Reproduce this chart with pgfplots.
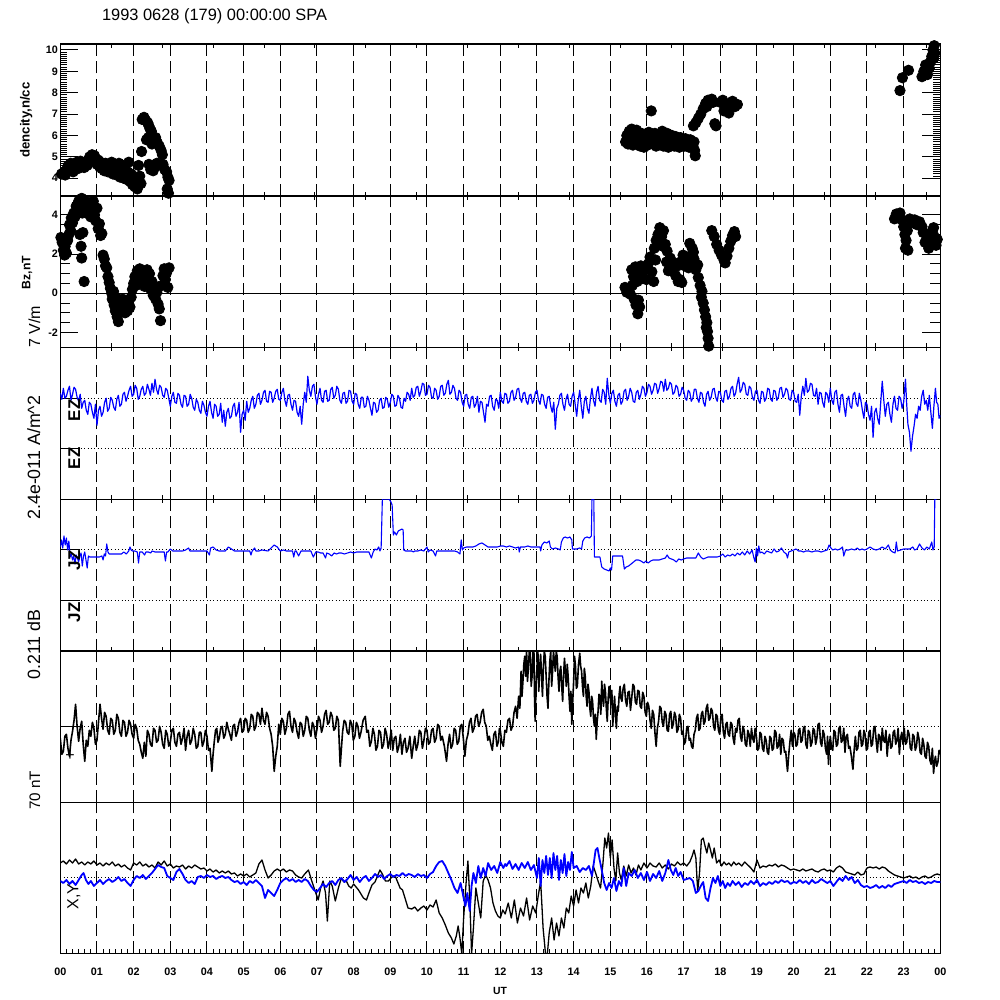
\documentclass[border=0pt]{standalone}
\usepackage{pgfplots}
\pgfplotsset{compat=1.18}
\usepackage{fontspec}
\setmainfont{Liberation Sans}
\definecolor{idlblue}{RGB}{0,0,255}
\pgfplotsset{
  panel/.style={
    scale only axis, width=440pt, xmin=0, xmax=1440, anchor=south west,
    axis line style={line width=0.55pt},
    every tick/.style={black, line width=0.5pt},
    major grid style={black, line width=0.5pt, dash pattern=on 6pt off 2.75pt},
    tick label style={font=\fontsize{5.4}{6}\selectfont\bfseries},
    /pgf/number format/assume math mode=true,
    every axis plot/.append style={line join=round},
  },
  hourgrid/.style={extra x ticks={60,120,...,1380}, extra x tick style={grid=major, major tick length=0pt}, extra x tick labels={}},
  oddticks/.style={xtick={83.33,166.67,250,333.33,416.67,500,583.33,666.67,750,833.33,916.67,1000,1083.33,1166.67,1250,1333.33,1416.67}, xticklabels={}, xtick style={/pgfplots/major tick length=2pt}},
}
\tikzset{lab/.style={inner sep=0pt}}
\newcommand{\outticks}[1]{%
  \pgfplotsinvokeforeach{#1}{\draw[line width=0.5pt] (axis cs:0,##1) -- ++(-5pt,0pt); \draw[line width=0.5pt] (axis cs:1440,##1) -- ++(5pt,0pt);}}
\newcommand{\inticks}[1]{%
  \pgfplotsinvokeforeach{#1}{\draw[line width=0.5pt] (axis cs:0,##1) -- ++(10pt,0pt);}}
\begin{document}
\begin{tikzpicture}
\useasboundingbox (0pt,0pt) rectangle (500pt,500pt);

% ---------- Panel 1: density
\begin{axis}[panel, hourgrid, oddticks, at={(30.15pt,402pt)}, height=76pt,
  ymin=3.17, ymax=10.28, ytick={4,5,6,7,8,9,10}, yticklabels={4,5,6,7,8,9,10}, minor y tick num=9,
  ytick pos=both, yticklabel pos=left,
  ytick style={/pgfplots/major tick length=9pt, /pgfplots/minor tick length=3.5pt},
  yticklabel style={inner sep=0pt, xshift=-1pt}]
\addplot[only marks, mark=*, mark size=2.6pt, black] coordinates {
(2,4.2)(5,4.25)(8,4.15)(11,4.45)(13,4.6)(15,4.35)(17,4.7)(19,4.45)(21,4.3)(23,4.65)(25,4.5)(27,4.75)(29,4.45)(31,4.6)(33,4.8)(35,4.55)(37,4.7)(39,4.5)(41,4.75)(44,4.6)(46,4.85)(48,5.0)(50,4.8)(52,5.1)(54,4.9)(56,5.05)(58,4.8)(60,4.65)(62,4.85)(64,4.55)(66,4.75)(68,4.45)(70,4.6)(72,4.35)(74,4.7)(76,4.5)(78,4.3)(80,4.6)(82,4.4)(84,4.75)(86,4.2)(88,4.5)(90,4.65)(92,4.15)(94,4.4)(96,4.7)(98,4.05)(100,4.3)(102,4.6)(104,4.0)(106,4.45)(108,3.95)(110,4.3)(112,4.75)(114,3.85)(116,4.2)(118,3.7)(120,4.05)(122,3.6)(124,3.9)(126,3.5)(128,4.6)(130,4.1)(132,3.75)(133,5.25)(134,6.75)(137,6.85)(140,6.7)(143,6.6)(145,6.45)(147,6.3)(149,6.2)(141,5.8)(144,5.9)(147,5.75)(150,5.6)(153,5.7)(156,5.9)(159,5.65)(162,5.5)(165,5.3)(167,5.1)(145,4.65)(148,4.4)(152,4.35)(156,4.55)(158,4.7)(168,4.65)(171,4.4)(174,4.3)(176,4.05)(178,3.9)(175,3.5)(177,3.3)
(925,5.7)(927,6.0)(929,5.6)(931,6.2)(933,5.8)(935,6.3)(937,5.55)(939,6.05)(941,5.75)(943,6.25)(945,5.6)(947,5.95)(949,5.5)(951,6.1)(953,5.7)(955,5.45)(957,6.0)(959,5.8)(961,5.55)(963,6.15)(965,5.65)(967,7.15)(969,5.9)(971,5.6)(973,6.1)(975,5.5)(977,5.85)(979,6.05)(981,5.6)(983,5.75)(985,6.2)(987,5.5)(989,5.9)(991,5.65)(993,6.1)(995,5.45)(997,5.8)(999,5.6)(1001,6.0)(1003,5.7)(1005,5.5)(1007,5.95)(1009,5.65)(1011,5.8)(1013,5.45)(1015,5.9)(1017,5.6)(1019,5.75)(1021,5.5)(1023,5.85)(1025,5.6)(1027,5.7)(1029,5.45)(1031,5.8)(1033,5.6)(1035,5.5)(1037,5.7)(1038,5.3)(1039,5.05)(1036,6.45)(1040,6.6)(1044,6.8)(1048,7.0)(1052,7.25)(1056,7.5)(1060,7.65)(1058,7.35)(1066,7.7)(1068,7.55)(1071,6.55)(1073,6.45)(1080,7.55)(1084,7.65)(1088,7.4)(1092,7.3)(1096,7.5)(1100,7.6)(1104,7.35)(1108,7.45)(1086,7.15)(1094,7.05)
(1374,8.1)(1378,8.7)(1388,9.05)(1410,8.75)(1413,9.0)(1416,9.3)(1419,8.85)(1422,9.15)(1424,9.45)(1426,9.7)(1428,10.0)(1430,10.2)(1431,9.85)(1429,9.6)
};
\end{axis}

% ---------- Panel 2: Bz
\begin{axis}[panel, hourgrid, oddticks, at={(30.15pt,326.25pt)}, height=75.75pt,
  ymin=-2.77, ymax=4.97, ytick={-2,0,2,4}, yticklabels={-2,0,2,4}, minor y tick num=3,
  ytick pos=both, yticklabel pos=left,
  ytick style={/pgfplots/major tick length=9pt, /pgfplots/minor tick length=5pt},
  yticklabel style={inner sep=0pt, xshift=-1pt}]
\draw[line width=0.55pt] (axis cs:0,0) -- (axis cs:1440,0);
\addplot[only marks, mark=*, mark size=2.6pt, black] coordinates {
(1,2.85)(3,2.6)(5,2.2)(7,1.95)(8,2.4)(10,2.05)(12,2.7)(14,3.0)(15,3.5)(17,3.2)(18,3.85)(20,3.6)(22,4.1)(24,3.9)(26,4.45)(28,4.2)(30,4.7)(31,4.3)(33,4.55)(35,4.85)(36,4.1)(38,4.4)(40,4.75)(42,4.3)(44,4.6)(46,4.05)(48,4.5)(50,3.9)(52,4.25)(54,4.7)(56,4.0)(58,3.7)(32,3.0)(34,2.4)(35,1.8)(37,3.1)(39,0.6)(60,4.35)(62,3.3)(64,3.55)(66,2.95)(68,3.05)(70,1.95)(72,1.75)(74,1.4)(76,1.3)(78,0.85)(80,0.55)(82,0.25)(84,0.0)(85,-0.3)(87,0.1)(88,-0.6)(90,-0.9)(91,-0.2)(93,-1.2)(95,-1.45)(96,-0.7)(98,-0.5)(100,-0.85)(102,-0.3)(104,-0.75)(106,-1.0)(108,-0.55)(110,-0.9)(112,-0.4)(114,-0.7)(116,-0.2)(118,0.2)(120,0.5)(122,0.85)(124,0.4)(126,1.15)(128,0.75)(130,1.25)(132,0.9)(134,0.6)(136,1.05)(138,0.35)(140,0.8)(142,1.2)(144,0.5)(146,1.0)(148,0.2)(150,0.6)(152,-0.1)(154,0.35)(156,-0.3)(158,0.05)(160,-0.55)(162,-0.8)(164,-1.4)(166,0.4)(168,0.9)(170,1.25)(172,0.7)(174,1.05)(176,0.3)(178,1.3)
(924,0.3)(927,0.05)(930,0.2)(933,-0.05)(936,0.4)(935,1.2)(938,0.85)(941,1.35)(944,0.6)(947,1.0)(950,1.4)(953,0.75)(939,-0.3)(942,-0.6)(945,-1.05)(948,-0.7)(946,-0.35)(956,1.2)(959,0.7)(962,1.5)(965,1.85)(968,1.1)(971,0.6)(974,1.7)(972,2.3)(975,2.7)(978,3.0)(981,3.35)(984,2.9)(987,3.2)(990,2.5)(993,2.15)(986,2.4)(992,1.6)(995,1.15)(998,1.8)(1001,1.3)(1004,1.55)(1007,0.9)(1010,1.4)(1011,0.6)(1014,0.7)(1017,0.55)(1015,1.6)(1019,1.95)(1022,1.4)(1025,1.7)(1028,1.3)(1031,1.9)(1034,1.5)(1037,1.75)(1040,1.2)(1043,1.45)(1030,2.55)(1034,2.3)(1036,2.1)(1044,0.8)(1047,0.4)(1050,0.1)(1049,-0.2)(1052,-0.5)(1054,-0.85)(1056,-1.2)(1058,-1.5)(1057,-1.75)(1059,-1.95)(1060,-2.3)(1061,-2.7)(1066,3.2)(1070,2.9)(1074,2.5)(1078,2.2)(1082,1.95)(1086,1.7)(1088,1.55)(1091,1.9)(1094,2.3)(1097,2.65)(1100,2.95)(1103,3.15)(1105,2.9)
(1365,3.8)(1368,4.05)(1371,3.9)(1374,4.1)(1377,3.75)(1380,3.4)(1382,3.0)(1384,2.7)(1386,3.2)(1383,2.3)(1387,2.2)(1390,3.8)(1394,3.6)(1398,3.75)(1402,3.5)(1406,3.65)(1410,3.4)(1412,3.1)(1415,2.6)(1418,2.9)(1421,2.3)(1424,2.7)(1427,3.2)(1430,2.9)(1433,2.45)(1435,2.75)(1429,3.35)
};
\end{axis}

% ---------- Panel 3: EZ
\begin{axis}[panel, hourgrid, oddticks, at={(30.15pt,250.35pt)}, height=75.9pt,
  ymin=-101, ymax=50.8, ytick=\empty]
\draw[line width=0.5pt, dash pattern=on 0.5pt off 1.2pt] (axis cs:0,0) -- (axis cs:1440,0);
\draw[line width=0.5pt, dash pattern=on 0.5pt off 1.2pt] (axis cs:0,-50) -- (axis cs:1440,-50);
\outticks{50.8,0,-50,-101}
\inticks{0,-50}
\addplot[idlblue, line width=0.6pt] coordinates {
(0,5)(2.5,-1)(5,10)(7.5,0)(10,2)(12.5,8)(15,12)(17.5,-2)(20,4)(22.5,11)(25,9)(27.5,1)(30,-3)(32.5,4)(35,-10)(37.5,-4)(40,-2)(42.5,-12)(45,-16)(47.5,-4)(50,-6)(52.5,-14)(55,-20)(57.5,-6)
(60,-27)(62.5,-12)(65,-8)(67.5,-18)(70,-14)(72.5,-4)(75,0)(77.5,-13)(80,-10)(82.5,1)(85,-2)(87.5,-9)(90,-12)(92.5,-1)(95,3)(97.5,-8)(100,-6)(102.5,4)(105,6)(107.5,-3)(110,2)(112.5,8)(115,12)(117.5,2)
(120,4)(122.5,13)(125,10)(127.5,-1)(130,2)(132.5,9)(135,12)(137.5,3)(140,5)(142.5,14)(145,9)(147.5,3)(150,15)(152.5,6)(155,19)(157.5,9)(160,4)(162.5,13)(165,11)(167.5,3)(170,1)(172.5,10)(175,8)(177.5,0)
(180,-8)(182.5,2)(185,6)(187.5,-4)(190,-5)(192.5,5)(195,3)(197.5,-6)(200,-9)(202.5,3)(205,2)(207.5,-8)(210,-6)(212.5,4)(215,0)(217.5,-9)(220,-12)(222.5,-1)(225,-4)(227.5,-12)(230,-15)(232.5,-3)(235,-7)(237.5,-14)
(240,-18)(242.5,-8)(245,-3)(247.5,-14)(250,-20)(252.5,-6)(255,-8)(257.5,-18)(260,-16)(262.5,-5)(265,-24)(267.5,-12)(270,-28)(272.5,-14)(275,-10)(277.5,-20)(280,-18)(282.5,-8)(285,-5)(287.5,-18)(290,-14)(292.5,-4)(295,-34)(297.5,-16)
(300,-12)(302.5,-22)(305,-3)(307.5,-14)(310,-10)(312.5,-2)(315,2)(317.5,-10)(320,-6)(322.5,3)(325,5)(327.5,-6)(330,-2)(332.5,6)(335,8)(337.5,-3)(340,-4)(342.5,7)(345,6)(347.5,-4)(350,0)(352.5,7)(355,9)(357.5,-1)
(360,-2)(362.5,6)(365,10)(367.5,-2)(370,-8)(372.5,3)(375,4)(377.5,-6)(380,-12)(382.5,-2)(385,-3)(387.5,-14)(390,-18)(392.5,-8)(395,-26)(397.5,-6)(400,6)(402.5,-4)(405,22)(407.5,8)(410,2)(412.5,12)(415,14)(417.5,2)
(420,-6)(422.5,4)(425,10)(427.5,-2)(430,-4)(432.5,7)(435,8)(437.5,-3)(440,-2)(442.5,9)(445,11)(447.5,0)(450,3)(452.5,12)(455,9)(457.5,-2)(460,-5)(462.5,5)(465,6)(467.5,-5)(470,-3)(472.5,8)(475,7)(477.5,-3)
(480,-6)(482.5,5)(485,4)(487.5,-6)(490,-10)(492.5,1)(495,1)(497.5,-9)(500,-8)(502.5,2)(505,-2)(507.5,-10)(510,-17)(512.5,-4)(515,-5)(517.5,-14)(520,-12)(522.5,-2)(525,0)(527.5,-10)(530,-9)(532.5,1)(535,-1)(537.5,-9)
(540,-4)(542.5,4)(545,2)(547.5,-8)(550,-7)(552.5,3)(555,0)(557.5,-9)(560,-10)(562.5,0)(565,-3)(567.5,6)(570,4)(572.5,-2)(575,10)(577.5,1)(580,3)(582.5,11)(585,12)(587.5,2)(590,7)(592.5,15)(595,14)(597.5,3)
(600,4)(602.5,13)(605,11)(607.5,1)(610,0)(612.5,10)(615,8)(617.5,-1)(620,2)(622.5,12)(625,13)(627.5,3)(630,5)(632.5,14)(635,18)(637.5,4)(640,6)(642.5,13)(645,10)(647.5,0)(650,-2)(652.5,8)(655,6)(657.5,-4)
(660,-8)(662.5,3)(665,4)(667.5,-6)(670,-10)(672.5,1)(675,2)(677.5,-9)(680,-6)(682.5,2)(685,-14)(687.5,-3)(690,-4)(692.5,-14)(695,-24)(697.5,-6)(700,-8)(702.5,2)(705,3)(707.5,-8)(710,-12)(712.5,-1)(715,-2)(717.5,-10)
(720,6)(722.5,-3)(725,-5)(727.5,5)(730,4)(732.5,-5)(735,-3)(737.5,6)(740,8)(742.5,-2)(745,1)(747.5,9)(750,10)(752.5,0)(755,-4)(757.5,5)(760,6)(762.5,-3)(765,-6)(767.5,3)(770,4)(772.5,-5)(775,-2)(777.5,6)
(780,8)(782.5,-2)(785,-6)(787.5,4)(790,3)(792.5,-6)(795,-10)(797.5,1)(800,2)(802.5,-8)(805,-14)(807.5,-4)(810,-31)(812.5,-10)(815,-6)(817.5,3)(820,5)(822.5,-6)(825,-12)(827.5,-1)(830,4)(832.5,-6)(835,-8)(837.5,2)
(840,6)(842.5,-6)(845,-18)(847.5,-2)(850,8)(852.5,-8)(855,-20)(857.5,-3)(860,2)(862.5,-10)(865,-15)(867.5,0)(870,10)(872.5,-2)(875,-8)(877.5,6)(880,12)(882.5,-2)(885,-4)(887.5,9)(890,6)(892.5,-6)(895,20)(897.5,4)
(900,-5)(902.5,5)(905,8)(907.5,-3)(910,-8)(912.5,3)(915,5)(917.5,-6)(920,-3)(922.5,7)(925,9)(927.5,-2)(930,2)(932.5,10)(935,6)(937.5,-3)(940,-4)(942.5,6)(945,8)(947.5,-1)(950,4)(952.5,12)(955,10)(957.5,2)
(960,6)(962.5,14)(965,12)(967.5,4)(970,8)(972.5,15)(975,14)(977.5,5)(980,10)(982.5,17)(985,16)(987.5,7)(990,19)(992.5,8)(995,10)(997.5,16)(1000,14)(1002.5,4)(1005,6)(1007.5,13)(1010,11)(1012.5,2)(1015,4)(1017.5,11)
(1020,8)(1022.5,0)(1025,-2)(1027.5,8)(1030,6)(1032.5,-3)(1035,0)(1037.5,9)(1040,9)(1042.5,0)(1045,-4)(1047.5,6)(1050,5)(1052.5,-4)(1055,-8)(1057.5,4)(1060,7)(1062.5,-2)(1065,1)(1067.5,9)(1070,10)(1072.5,1)(1075,-3)(1077.5,7)
(1080,6)(1082.5,-2)(1085,-4)(1087.5,7)(1090,8)(1092.5,-1)(1095,2)(1097.5,10)(1100,12)(1102.5,2)(1105,5)(1107.5,14)(1110,21)(1112.5,6)(1115,9)(1117.5,16)(1120,14)(1122.5,4)(1125,3)(1127.5,12)(1130,10)(1132.5,1)(1135,-2)(1137.5,7)
(1140,8)(1142.5,-2)(1145,-5)(1147.5,7)(1150,6)(1152.5,-3)(1155,0)(1157.5,10)(1160,9)(1162.5,-1)(1165,-3)(1167.5,8)(1170,7)(1172.5,-2)(1175,1)(1177.5,10)(1180,11)(1182.5,1)(1185,4)(1187.5,10)(1190,8)(1192.5,-1)(1195,-2)(1197.5,8)
(1200,6)(1202.5,-3)(1205,-4)(1207.5,4)(1210,-17)(1212.5,2)(1215,12)(1217.5,3)(1220,20)(1222.5,6)(1225,8)(1227.5,15)(1230,14)(1232.5,3)(1235,2)(1237.5,10)(1240,-6)(1242.5,6)(1245,5)(1247.5,-4)(1250,-9)(1252.5,6)(1255,4)(1257.5,-4)
(1260,10)(1262.5,-2)(1265,-6)(1267.5,6)(1270,8)(1272.5,-6)(1275,-14)(1277.5,3)(1280,4)(1282.5,-8)(1285,-18)(1287.5,-2)(1290,2)(1292.5,-8)(1295,-10)(1297.5,4)(1300,6)(1302.5,-5)(1305,-8)(1307.5,5)(1310,-2)(1312.5,-12)(1315,-20)(1317.5,-4)
(1320,-6)(1322.5,-16)(1325,-22)(1327.5,-8)(1330,-39)(1332.5,-14)(1335,-10)(1337.5,-20)(1340,-26)(1342.5,-4)(1345,17)(1347.5,-2)(1350,-18)(1352.5,-6)(1355,-4)(1357.5,-16)(1360,-24)(1362.5,-6)(1365,2)(1367.5,-10)(1370,-12)(1372.5,2)(1375,0)(1377.5,-10)
(1380,-4)(1383,19)(1385,-6)(1387,-26)(1389.5,-34)(1392,-53)(1394.5,-38)(1397,-28)(1399.5,-16)(1402,-20)(1404.5,-8)(1407,-12)(1409.5,2)(1412,8)(1414.5,-6)(1417,-2)(1419.5,-12)(1422,3)(1424.5,-14)(1427,-30)(1429.5,-8)(1432,10)(1434,-4)(1436,-6)(1438,-20)(1440,-17)
};
\end{axis}

% ---------- Panel 4: JZ
\begin{axis}[panel, hourgrid, oddticks, at={(30.15pt,174.5pt)}, height=75.85pt,
  ymin=-101, ymax=50.7, ytick=\empty]
\draw[line width=0.5pt, dash pattern=on 0.5pt off 1.2pt] (axis cs:0,0) -- (axis cs:1440,0);
\draw[line width=0.5pt, dash pattern=on 0.5pt off 1.2pt] (axis cs:0,-50.3) -- (axis cs:1440,-50.3);
\outticks{50.7,0,-50.3,-101}
\inticks{0,-50.3}
\addplot[idlblue, line width=0.55pt] coordinates {
(0,3)(2,10)(4,2)(6,14)(8,5)(10,12)(12,0)(14,9)(16,-7)(18,-4)(20,-10)(22,-6)(24,-14)(26,-5)(28,-8)(30,-12)(32,-6)(34,-3)(36,-16)(38,-6)(40,-2)(42,-10)(44,-18)(46,-6)(48,-7)(52,-7)(56,-7)(60,-7)(64,-7)(68,-6)(70,-10)(72,-4)(74,-6)(76,6)(78,-2)(80,-4)(84,-4)(88,-4)(92,-4)(96,-4)(100,-4)(104,-2)(108,-4)(112,-1)(114,3)(116,0)(118,-1)(122,-1)(126,-2)(128,-13)(130,-2)(134,-2)(138,-5)(140,-2)(144,-2)(148,-3)(150,-1)(155,-2)(160,-2)(165,-2)(170,-2)(172,-11)(174,-2)(176,-2)(180,1)(184,-1)(190,-1)(195,-1)(200,-1)(205,0)(210,2)(212,-1)(220,-1)(225,-1)(230,-1)(240,-1)(244,-5)(246,2)(250,3)(255,0)(260,-1)(270,-1)(275,3)(280,1)(285,-1)(290,-1)(295,-1)(300,-1)(305,-1)(310,-1)(312,-5)(314,-1)(318,2)(320,-1)(325,-1)(330,0)(340,-1)(345,2)(350,5)(355,3)(360,-1)(365,0)(370,-1)(375,-1)(380,-1)(382,-7)(384,-1)(386,-1)(390,-6)(394,-1)(398,-1)(410,-1)(414,-7)(418,-2)(422,-2)(426,-3)(430,-3)(434,-8)(436,-3)(440,-4)(444,-6)(448,-3)(452,-4)(456,-3)(460,-3)(465,-4)(470,-3)(475,-2)(480,-3)(485,-2)(490,-2)(495,-2)(500,-2)(505,-2)(509,-8)(512,-2)(515,1)(518,0)(521,3)(523,-1)(525,2)(527,51)(529,51)(532,51)(535,51)(538,51)(541,48)(543,45)(545,15)(547,18)(550,15)(553,19)(556,20)(559,21)(561,20)(562,0)(565,-1)(570,-1)(575,-1)(578,-2)(580,-1)(585,-1)(590,0)(595,-1)(600,3)(602,-2)(605,0)(610,-1)(614,-6)(616,-1)(620,-1)(625,-1)(630,-1)(640,-1)(645,-1)(650,-2)(654,-4)(656,10)(658,0)(660,2)(665,3)(670,3)(675,3)(680,4)(685,6)(690,7)(695,5)(700,3)(705,3)(711,3)(715,3)(720,4)(725,4)(730,3)(735,4)(740,3)(745,2)(750,3)(751,-2)(753,3)(760,3)(765,4)(770,3)(775,3)(780,3)(785,3)(786,-1)(788,5)(792,8)(796,7)(800,9)(802,3)(805,1)(810,2)(815,1)(818,0)(820,8)(823,12)(826,13)(830,12)(834,13)(837,10)(838,1)(840,1)(845,1)(850,2)(853,1)(855,9)(858,12)(862,13)(866,12)(869,14)(870,51)(873,51)(874,-7)(878,-7)(883,-7)(886,-17)(890,-19)(894,-20)(898,-21)(900,-18)(902,-20)(904,-6)(908,-6)(912,-6)(916,-6)(920,-6)(923,-19)(926,-17)(930,-16)(934,-14)(938,-12)(942,-10)(946,-10)(950,-11)(955,-13)(958,-11)(962,-13)(966,-11)(970,-10)(975,-10)(980,-10)(985,-9)(990,-8)(993,-5)(996,-8)(1000,-9)(1004,-10)(1008,-12)(1012,-9)(1016,-10)(1020,-9)(1025,-8)(1030,-8)(1035,-8)(1040,-8)(1044,-3)(1048,-7)(1052,-9)(1056,-8)(1060,-7)(1065,-7)(1070,-7)(1075,-7)(1080,-6)(1084,-4)(1088,-7)(1092,-5)(1096,-6)(1100,-4)(1104,-6)(1108,-3)(1112,-5)(1116,-2)(1120,-5)(1124,-1)(1128,-4)(1132,0)(1135,-8)(1137,-12)(1139,2)(1141,-6)(1143,4)(1145,-3)(1148,-2)(1152,-4)(1156,-1)(1160,-2)(1164,-3)(1168,1)(1172,-2)(1176,-1)(1180,2)(1184,-2)(1188,-4)(1190,-8)(1192,-2)(1196,-1)(1200,0)(1204,1)(1208,-1)(1212,-1)(1216,-2)(1220,-1)(1225,-1)(1230,-2)(1235,-1)(1240,-1)(1245,-2)(1250,-1)(1255,0)(1258,5)(1261,2)(1264,0)(1268,1)(1272,0)(1276,1)(1280,3)(1282,-6)(1285,0)(1290,0)(1295,1)(1300,0)(1304,2)(1308,0)(1312,1)(1316,0)(1320,1)(1325,3)(1330,1)(1335,0)(1340,1)(1345,3)(1350,1)(1355,5)(1358,0)(1362,-2)(1366,-3)(1368,8)(1370,-1)(1375,0)(1380,1)(1385,1)(1390,1)(1395,3)(1398,0)(1402,1)(1406,6)(1410,2)(1414,0)(1418,3)(1422,1)(1426,8)(1428,0)(1430,3)(1431,51)(1433,51)(1434,51)
};
\end{axis}

% ---------- Panel 5: dB
\begin{axis}[panel, hourgrid, at={(30.15pt,98.85pt)}, height=75.65pt,
  ymin=-76, ymax=75.3, ytick=\empty, xtick=\empty]
\draw[line width=0.5pt, dash pattern=on 0.5pt off 1.2pt] (axis cs:0,0) -- (axis cs:1440,0);
\outticks{75.3,0,-76}
\inticks{0}
\addplot[black, line width=0.8pt] coordinates {
(0,-12)(2.5,-28)(5,-25)(7.5,-10)(10,-8)(12.5,-22)(15,-30)(17.5,-14)(20,-5)(22.5,6)(25,22)(27.5,0)(30,-15)(32.5,-2)(35,5)(37.5,-18)(40,-35)(42.5,-14)(45,-20)(47.5,-4)(50,-10)(52.5,4)(55,-2)(57.5,-18)
(60,-14)(62.5,4)(65,22)(67.5,8)(70,-3)(72.5,14)(75,10)(77.5,-4)(80,-8)(82.5,8)(85,6)(87.5,-8)(90,-4)(92.5,12)(95,8)(97.5,-6)(100,-10)(102.5,6)(105,4)(107.5,-10)(110,-6)(112.5,6)(115,2)(117.5,-8)
(120,-12)(122.5,2)(125,-2)(127.5,-14)(130,-18)(132.5,-26)(135,-32)(137.5,-16)(140,-30)(142.5,-4)(145,-8)(147.5,-18)(150,-20)(152.5,-2)(155,-4)(157.5,-16)(160,-14)(162.5,0)(165,-6)(167.5,-18)(170,-22)(172.5,-4)(175,-8)(177.5,-20)
(180,-16)(182.5,-4)(185,-2)(187.5,-16)(190,-20)(192.5,-8)(195,-6)(197.5,-18)(200,-12)(202.5,-2)(205,-24)(207.5,-10)(210,-4)(212.5,-18)(215,-14)(217.5,-2)(220,-8)(222.5,-22)(225,-20)(227.5,-6)(230,-6)(232.5,-20)(235,-15)(237.5,-4)
(240,-10)(242.5,-24)(245,-22)(248,-45)(250,-28)(252,-15)(254,-4)(256,-2)(258,-16)(260,-12)(262.5,-2)(265,0)(267.5,-12)(270,-8)(272.5,4)(275,-3)(277.5,-8)(280,-14)(282.5,0)(285,2)(287.5,-10)(290,-5)(292.5,4)(295,8)(297.5,-6)
(300,-4)(302.5,8)(305,6)(307.5,-6)(310,-2)(312.5,12)(315,10)(317.5,-4)(320,0)(322.5,14)(325,12)(327.5,2)(330,18)(332.5,6)(335,2)(337.5,14)(340,10)(342.5,-2)(345,-8)(347.5,-20)(350,-45)(352.5,-30)(355,-20)(357.5,2)
(360,-8)(362.5,8)(365,5)(367.5,-8)(370,-2)(372.5,12)(375,15)(377.5,0)(380,-6)(382.5,8)(385,4)(387.5,-6)(390,-12)(392.5,4)(395,2)(397.5,-10)(400,-4)(402.5,10)(405,8)(407.5,-4)(410,-10)(412.5,4)(415,0)(417.5,-12)
(420,-3)(422.5,10)(425,6)(427.5,-6)(430,0)(432.5,12)(435,16)(437.5,2)(440,4)(442.5,14)(445,10)(447.5,-4)(450,-2)(452.5,10)(455,6)(458,-40)(460,-22)(462,-5)(464.5,6)(467,4)(469.5,-6)(472,-8)(474.5,6)
(477,2)(479.5,-14)(482,-10)(484.5,4)(487,0)(489.5,-12)(492,-6)(495.5,6)(499,10)(501.5,-6)(504,-4)(506.5,-20)(509,-15)(511.5,-2)(514,-8)(516.5,-24)(519,-20)(521.5,-4)(524,-6)(526.5,-22)(529,-18)(531.5,-2)(534,-8)(536.5,-22)
(539,-14)(541.5,-4)(544,-24)(546.5,-12)(549,-10)(551.5,-26)(554,-20)(556.5,-8)(559,-28)(561.5,-16)(564,-12)(566.5,-26)(569,-22)(572,-10)(575,-32)(577.5,-20)(580,-10)(582.5,-24)(585,-18)(587.5,-4)(590,-6)(592.5,-22)(595,-14)(597.5,-2)
(600,-4)(602.5,-18)(605,-16)(607.5,-4)(610,-2)(612.5,-16)(615,-12)(617.5,2)(620,0)(622.5,-14)(625,-10)(628.5,-20)(632,-35)(634.5,-18)(637,-8)(639.5,-22)(642,-18)(644.5,-2)(647,-4)(649.5,-18)(652,-15)(654.5,0)(657,2)(659.5,-12)
(662,-30)(664.5,-14)(667,-8)(669.5,4)(672,8)(674.5,-6)(677,-2)(679.5,10)(682,12)(684.5,0)(687,4)(689.5,14)(692,17)(694.5,4)(697,0)(699.5,-14)(702,-10)(704.5,-18)(707,-24)(709.5,-8)(712,-5)(714.5,-20)(717,-15)(718.5,-2)
(720,-4)(722.5,-16)(725,-20)(727.5,-4)(730,-6)(732.5,6)(735,8)(737.5,-4)(740,0)(742.5,14)(745,20)(747.5,8)(750,30)(752,18)(754,55)(755.5,30)(757,45)(758.5,62)(760,70)(761.5,50)(763,75)(764.5,45)(766,60)(767.5,75)(769,75)(770.5,40)(772,50)(773.5,75)(775,75)(776,30)
(777,5)(778.5,40)(780,60)(781.5,75)(783,35)(784.5,60)(786,72)(787.5,50)(789,30)(790.5,60)(792,75)(793.5,70)(795,50)(796.5,30)(798,18)(799.5,45)(801,65)(802.5,75)(804,40)(805.5,55)(807,75)(808.5,65)(810,55)(811.5,75)(813,70)(814.5,50)(816,35)(817.5,55)(819,60)(820.5,40)(822,25)(823.5,50)(825,68)(826.5,55)(828,40)(829.5,62)(831,50)(832.5,30)(834,15)(835.5,35)(837,2)(838.5,25)
(840,45)(841.5,70)(843,60)(844.5,38)(846,40)(848,62)(850,73)(851.5,60)(853,55)(854.5,40)(856,30)(857.5,58)(859,50)(860.5,30)(862,20)(863.5,42)(865,35)(866.5,18)(868,10)(869.5,30)(871,25)(872.5,8)(874,0)(875.5,12)(877,-13)(878.5,5)(880,15)(881.5,32)(883,30)(884.5,12)(886,45)(887.5,28)(889,20)(890.5,42)(892,35)(893.5,18)(895,5)(896.5,28)
(898,40)(899.5,30)(901,22)(902.5,36)(904,0)(905.5,18)(907,30)(908.5,10)(910,-2)(911.5,20)(913,15)(914.5,32)(916,40)(917.5,28)(919,25)(921,38)(923,42)(925,26)(927,20)(929,34)(931,35)(933,16)(935,28)(937,42)(939,40)(941,24)(943,22)(945,36)(947,35)(949,20)(951,18)(953,34)(955,30)(957,14)
(959,10)(961,24)(963,20)(965,6)(967,-2)(969,16)(971,12)(973,-6)(975,-20)(977,-2)(979,5)(981,20)(983,18)(985,4)(987,0)(989,15)(991,12)(993,-4)(995,-5)(997,12)(999,15)(1001,-2)(1003,2)(1005,14)(1007,10)(1009,-6)(1011,-3)(1013,12)(1015,8)(1017,-8)
(1019,-5)(1021,-18)(1023,-15)(1025,-2)(1027,0)(1029,-14)(1031,-12)(1033,-20)(1035,-22)(1037,-8)(1039,-4)(1041,8)(1043,12)(1045,-4)(1047,-2)(1049,12)(1051,15)(1053,2)(1055,5)(1057,18)(1059,22)(1061,6)(1063,8)(1065,18)(1067,15)(1069,0)(1071,-4)(1073,12)
(1075,10)(1077,-4)(1079,-8)(1081,10)(1083,12)(1085,-6)(1087,-12)(1089,2)(1091,4)(1093,-8)(1095,-10)(1097,4)(1099,2)(1101,-12)(1103,-18)(1105,-2)(1107,-6)(1109,6)(1111,8)(1113,-10)(1115,-15)(1117,0)(1119,-4)(1121,-18)(1123,-20)(1125,-4)(1127,-8)(1129,-20)(1131,-2)(1133,-12)(1135,-16)(1137,-2)
(1139,-10)(1141,-24)(1143,-22)(1145,-6)(1147,-8)(1149,-22)(1151,-25)(1153,-10)(1155,-14)(1157,-26)(1159,-28)(1161,-10)(1163,-12)(1165,-24)(1167,-22)(1169,-4)(1171,-6)(1173,-22)(1175,-20)(1177,-8)(1179,-28)(1181,-12)(1183,-14)(1185,-26)(1187,-25)(1188.5,-36)(1190,-45)(1192,-28)(1194,-15)(1196,-4)
(1198,-20)(1200,-6)(1202,-8)(1204,-20)(1206,-18)(1208,-4)(1210,-2)(1212,-16)(1214,-14)(1216,-2)(1218,0)(1220,-18)(1222,-22)(1224,-4)(1226,-6)(1228,-20)(1230,-16)(1232,-2)(1234,-4)(1236,-18)(1238,-12)(1240,2)(1242,3)(1244,-16)(1246,-20)(1248,-4)(1250,-8)(1252,-22)(1254,-28)(1255.5,-10)(1257,-38)(1258.5,-20)
(1260,-10)(1262,-22)(1264,-24)(1266,-4)(1268,-6)(1270,-20)(1272,-18)(1274,-2)(1276,0)(1278,-16)(1280,-14)(1282,-2)(1284,-26)(1286,-10)(1288,-8)(1290,-22)(1292,-20)(1294.5,-30)(1297,-43)(1299,-24)(1301,-10)(1303,-24)(1305,-22)(1307,-6)(1309,-4)(1311,-20)(1313,-18)(1315,-4)
(1317,-8)(1319,-24)(1321,-22)(1323,-6)(1325,-4)(1327,-20)(1329,-18)(1331,-2)(1333,0)(1335,-14)(1337,-26)(1339,-8)(1341,-10)(1343,-24)(1345,-2)(1347,-14)(1349,-16)(1351,-4)(1353,-30)(1355,-14)(1357,-8)(1359,-22)(1361,-20)(1363,-6)(1365,-4)(1367,-18)(1369,-14)(1371,-2)(1373,-28)(1375,-12)(1377,-6)(1379,-18)
(1381,-2)(1383,-18)(1385,-16)(1387,-4)(1389,-8)(1391,-22)(1393,-24)(1395,-8)(1397,-10)(1399,-24)(1401,-20)(1403,-6)(1405,-12)(1407,-26)(1409,-28)(1411,-12)(1413,-18)(1415,-30)(1417,-32)(1419,-16)(1421,-20)(1423,-34)(1425,-38)(1427,-22)(1429,-47)(1430.5,-36)(1432,-30)(1434,-40)(1436,-36)(1438,-24)(1440,-28)
};
\end{axis}

% ---------- Panel 6: X, Y
\begin{axis}[panel, at={(30.15pt,23.35pt)}, height=75.5pt,
  ymin=-75.3, ymax=75.7, ytick=\empty,
  xtick={0,60,...,1440}, xmajorgrids, minor x tick num=5, xtick pos=left,
  xticklabels={00,01,02,03,04,05,06,07,08,09,10,11,12,13,14,15,16,17,18,19,20,21,22,23,00},
  xtick style={/pgfplots/major tick length=3pt, /pgfplots/minor tick length=2pt},
  xticklabel style={inner sep=0pt, yshift=-7.1pt}]
\draw[line width=0.5pt, dash pattern=on 0.5pt off 1.2pt] (axis cs:0,0) -- (axis cs:1440,0);
\outticks{75.7,0,-75.3}
\addplot[black, line width=0.65pt] coordinates {
(0,15)(5,17)(10,14)(15,18)(20,15)(25,19)(30,14)(35,16)(40,13)(45,16)(50,14)(55,17)(60,13)(65,15)(70,12)(75,15)(80,13)(85,16)(90,12)(95,14)(100,11)(105,13)(110,10)(115,8)(120,15)(125,13)(130,16)(135,12)(140,14)(145,11)(150,13)(155,10)(160,16)(165,13)(170,17)(175,12)(180,14)(185,10)(190,12)(195,11)(200,13)(205,9)(210,12)(215,10)(220,13)(225,11)(230,9)(235,10)(240,7)(245,9)(250,6)(255,8)(260,5)(265,7)(270,5)(275,7)(280,4)(285,5)(290,2)(295,4)(300,2)(305,4)(310,1)(315,3)(320,5)(325,14)(330,18)(335,8)(340,0)(345,3)(350,7)(355,9)(360,7)(365,9)(370,6)(375,8)(380,7)(385,3)(390,1)(395,0)(400,4)(406,8)(411,-2)(417,-13)(422,-22)(426,-10)(430,-3)(434,-15)(437,-43)(441,-3)(445,-8)(450,-23)(455,-10)(460,0)(464,-4)(468,-3)(472,-8)(476,-10)(480,-6)(484,-9)(488,-12)(492,-16)(496,-20)(501,-22)(505,-15)(510,-7)(515,-4)(519,2)(523,8)(527,4)(532,-3)(537,-3)(541,0)(545,2)(548,2)(552,-4)(556,-10)(560,-12)(564,-20)(569,-30)(575,-31)(580,-29)(585,-33)(590,-30)(595,-28)(600,-32)(605,-27)(610,-29)(615,-22)(620,-35)(625,-40)(630,-47)(635,-55)(640,-60)(644,-66)(648,-58)(651,-48)(654,-60)(657,-76)(660,-40)(664,-5)(667,17)(670,-20)(673,-76)(676,-50)(680,-10)(684,-25)(688,-40)(692,-3)(696,3)(700,-2)(704,-10)(708,-25)(712,-33)(716,-38)(720,-40)(724,-32)(728,-36)
(733,-25)(738,-40)(743,-22)(748,-45)(753,-30)(758,-38)(763,-20)(768,-42)(773,-28)(778,-35)(782,-18)(786,-3)(790,-50)(794,-76)(797,-76)(800,-55)(804,-40)(808,-62)(812,-45)(816,-58)(820,-40)(824,-50)(828,-30)(832,-35)(836,-18)(840,-28)(844,-12)(848,-25)(852,-10)(856,-15)(860,-5)(864,-20)(868,-8)(872,12)(876,5)(880,-3)(884,-10)(888,15)(891,40)(894,30)(897,45)(900,20)(903,38)(906,10)(909,-3)(912,25)(915,5)(918,-2)(922,12)(926,2)(930,13)(934,5)(938,10)(942,3)(946,13)(950,8)(955,15)(960,10)(965,15)(970,12)(975,11)(980,15)(985,10)(990,13)(995,9)(1000,14)(1005,12)(1010,16)(1015,13)(1020,15)(1025,12)(1030,16)(1034,22)(1037,28)(1040,20)(1043,-13)(1046,5)(1049,38)(1052,40)(1055,32)(1058,25)(1061,35)(1064,28)(1067,20)(1070,30)(1074,15)(1078,18)(1082,12)(1086,16)(1090,13)(1094,15)(1098,12)(1102,16)(1106,13)(1110,15)(1115,12)(1120,16)(1125,13)(1130,10)(1135,6)(1140,18)(1145,10)(1150,12)(1155,11)(1160,13)(1165,12)(1170,14)(1175,11)(1180,13)(1185,12)(1190,10)(1195,8)(1200,9)(1205,8)(1210,7)(1215,9)(1220,7)(1225,8)(1230,9)(1235,7)(1240,6)(1245,8)(1250,9)(1255,7)(1260,8)(1265,6)(1270,10)(1275,12)(1280,10)(1285,6)(1290,5)(1295,4)(1300,3)(1305,6)(1310,3)(1315,4)(1320,10)(1325,11)(1330,10)(1335,11)(1340,9)(1345,11)(1350,10)(1355,7)(1360,5)(1365,3)(1370,2)(1375,1)(1380,0)(1385,1)(1390,2)(1395,0)(1400,1)(1405,-1)(1410,1)(1415,2)(1420,0)(1425,1)(1430,3)(1435,4)(1440,3)
};
\addplot[idlblue, line width=0.9pt] coordinates {
(0,-3)(5,-5)(10,-2)(15,-6)(20,-3)(25,-7)(30,-2)(35,3)(38,5)(42,-2)(46,-6)(50,-3)(55,-8)(60,-5)(65,-2)(70,-6)(75,-3)(80,-1)(85,-4)(90,-2)(95,1)(100,-3)(105,-1)(110,-5)(115,-8)(120,-2)(125,2)(130,0)(135,3)(140,-1)(145,2)(150,5)(155,9)(160,13)(165,11)(170,10)(175,2)(180,0)(185,-2)(190,6)(195,9)(200,4)(205,-2)(210,-5)(215,-3)(220,-6)(225,1)(230,2)(235,0)(240,3)(245,1)(250,2)(255,-1)(260,1)(265,2)(270,0)(275,1)(280,-2)(285,-4)(290,-3)(295,-6)(300,-4)(305,-7)(310,-3)(315,-5)(320,-2)(325,-5)(330,-8)(335,-20)(340,-12)(345,-15)(350,-18)(355,-12)(360,-5)(365,-2)(370,0)(375,-3)(380,-1)(385,-4)(390,-2)(395,-4)(400,-1)(405,-3)(410,-8)(415,-12)(420,-14)(425,-10)(430,-6)(435,-9)(440,-5)(445,-3)(450,-7)(455,-2)(460,0)(465,-4)(470,-1)(475,3)(480,-2)(485,1)(490,-4)(495,0)(500,2)(505,-3)(510,0)(515,4)(520,1)(525,3)(530,-1)(535,2)(540,4)(545,1)(550,3)(555,2)(560,5)(565,2)(570,4)(575,3)(580,1)(585,4)(590,2)(595,3)(600,0)(605,4)(610,6)(615,12)(620,16)(625,17)(630,12)(635,5)(640,-2)(645,-10)(650,-15)(655,-5)(660,-20)(663,-28)(666,-15)(670,-33)(673,-8)(676,5)(680,-5)(684,12)(688,0)(692,10)(696,2)(700,15)(705,8)(710,12)(715,5)(720,16)(725,10)(728,14)
(730,12)(735,17)(740,9)(745,14)(750,8)(755,15)(760,10)(765,16)(770,8)(775,13)(780,0)(783,20)(786,-8)(789,18)(792,5)(795,22)(798,3)(801,20)(804,0)(807,25)(810,8)(813,22)(816,-2)(819,18)(822,5)(825,24)(828,2)(831,16)(834,8)(837,26)(840,10)(845,12)(850,6)(855,10)(860,8)(865,12)(870,2)(873,15)(876,28)(879,30)(882,20)(886,8)(890,-5)(894,-12)(898,-5)(902,-10)(906,0)(910,-13)(914,-3)(918,-8)(922,10)(926,-8)(930,5)(935,2)(940,8)(945,0)(950,5)(955,-2)(960,6)(965,-3)(970,4)(975,0)(980,7)(985,-3)(990,5)(995,18)(999,8)(1003,3)(1007,10)(1011,2)(1015,6)(1020,-2)(1025,-1)(1030,0)(1035,-3)(1040,-15)(1044,-13)(1048,-8)(1052,-4)(1056,-20)(1060,-23)(1064,-10)(1068,0)(1072,-5)(1076,2)(1080,-8)(1084,-3)(1088,-10)(1092,-5)(1096,-8)(1100,-3)(1105,-7)(1110,-4)(1115,-9)(1120,-5)(1125,-7)(1130,-3)(1135,-6)(1140,-2)(1145,-8)(1150,-5)(1155,-7)(1160,-4)(1165,-6)(1170,-3)(1175,-5)(1180,-2)(1185,-4)(1190,-3)(1195,-6)(1200,-4)(1205,-5)(1210,-2)(1215,-5)(1220,-3)(1225,-6)(1230,-2)(1235,-5)(1240,-4)(1245,-1)(1250,-3)(1255,-5)(1260,-3)(1265,-8)(1270,-4)(1275,0)(1280,-3)(1285,2)(1290,-2)(1295,1)(1300,-5)(1305,-2)(1310,-7)(1315,-9)(1320,-8)(1325,-10)(1330,-9)(1335,-7)(1340,-10)(1345,-8)(1350,-10)(1355,-7)(1360,-9)(1365,-6)(1370,-5)(1375,-4)(1380,-3)(1385,-5)(1390,-2)(1395,-4)(1400,-3)(1405,-5)(1410,-4)(1415,-6)(1420,-4)(1425,-5)(1430,-3)(1435,-4)(1440,-4)
};
\end{axis}

% ---------- Texts
\node[lab, anchor=base west, font=\fontsize{8.2}{9}\selectfont] at (50.85pt,489.65pt) {1993 0628 (179) 00:00:00 SPA};
\node[lab, rotate=90, anchor=base, font=\fontsize{6.6}{7}\selectfont\bfseries] at (14.75pt,440pt) {dencity,n/cc};
\node[lab, rotate=90, anchor=base, font=\fontsize{6.1}{7}\selectfont\bfseries] at (15.2pt,363.75pt) {Bz,nT};
\node[lab, rotate=90, anchor=base west, font=\fontsize{8}{9}\selectfont] at (20pt,326pt) {7 V/m};
\node[lab, rotate=90, anchor=base west, font=\fontsize{8.9}{9}\selectfont] at (20pt,240pt) {2.4e-011 A/m\textasciicircum 2};
\node[lab, rotate=90, anchor=base west, font=\fontsize{8.9}{9}\selectfont] at (20pt,160pt) {0.211 dB};
\node[lab, rotate=90, anchor=base west, font=\fontsize{7.6}{9}\selectfont] at (20pt,95pt) {70 nT};
\node[lab, rotate=90, anchor=base east, font=\fontsize{8.5}{9}\selectfont\bfseries] at (40pt,300.5pt) {EZ};
\node[lab, rotate=90, anchor=base east, font=\fontsize{8.5}{9}\selectfont\bfseries] at (40pt,276.5pt) {EZ};
\node[lab, rotate=90, anchor=base east, font=\fontsize{8.5}{9}\selectfont\bfseries] at (40pt,225pt) {JZ};
\node[lab, rotate=90, anchor=base east, font=\fontsize{8.5}{9}\selectfont\bfseries] at (40pt,199pt) {JZ};
\node[lab, rotate=90, anchor=base east, font=\fontsize{8}{9}\selectfont] at (39.15pt,58.5pt) {X,Y};
\node[lab, font=\fontsize{8}{9}\selectfont] at (35pt,122pt) {+};
\node[lab, anchor=base, font=\fontsize{5.2}{6}\selectfont\bfseries] at (250pt,2.5pt) {UT};
\end{tikzpicture}
\end{document}
